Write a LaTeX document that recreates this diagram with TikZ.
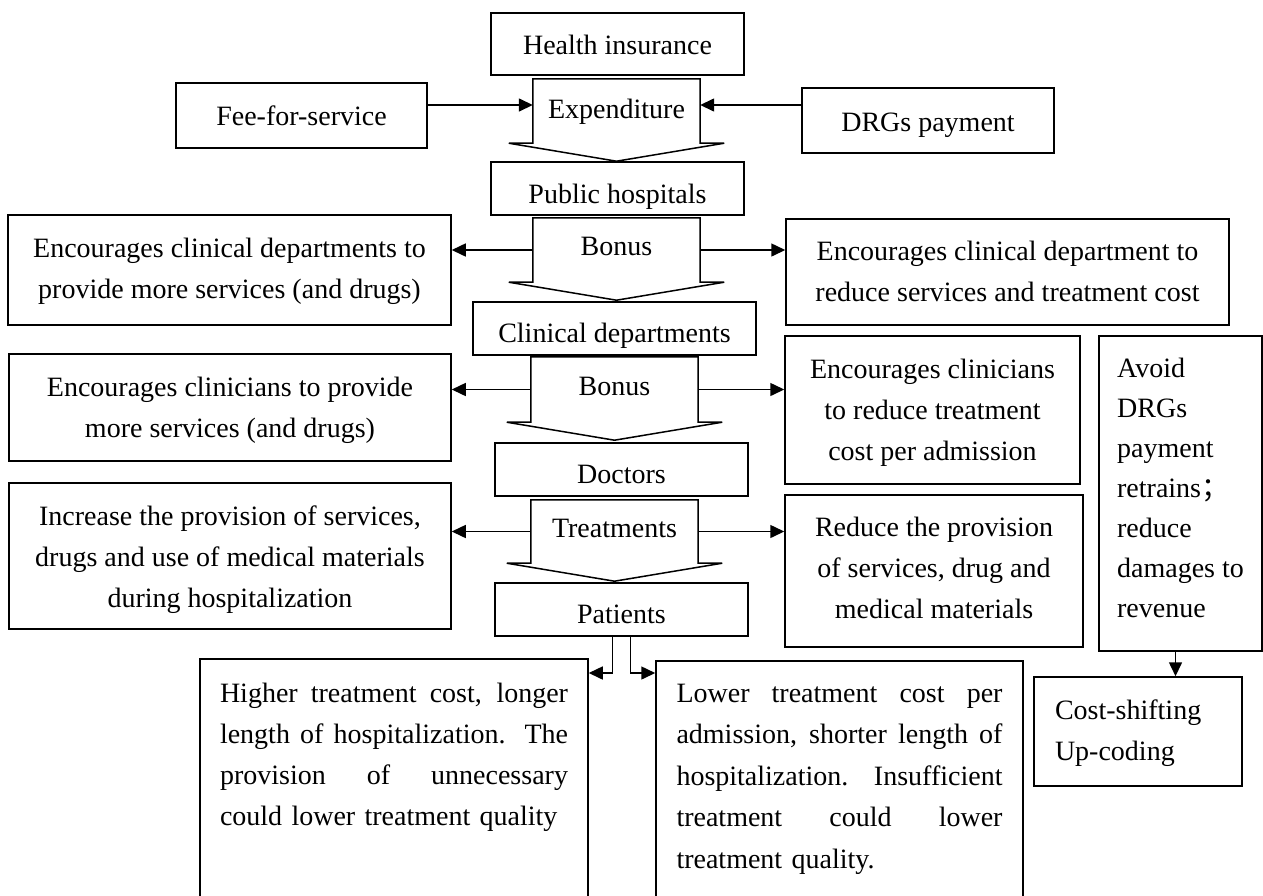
\documentclass[tikz,border=0pt]{standalone}
\usepackage{fontspec}
\setmainfont{Liberation Serif}
\newfontfamily\cjk{Noto Sans CJK SC}
\usetikzlibrary{arrows.meta,calc}
\setlength{\parindent}{0pt}
\newcommand{\jline}[2]{\makebox[#1][s]{\spaceskip=0pt\xspaceskip=0pt\relax #2}}
\begin{document}
\begin{tikzpicture}[x=1pt,y=-1pt,
  every node/.style={font=\fontsize{28}{41}\selectfont, inner sep=0pt},
  box/.style={draw, line width=1.5pt, rectangle},
  body/.style={rectangle},
  blk/.style={draw, line width=1.5pt, line join=miter},
  conn/.style={line width=1.5pt, -{Triangle[length=14pt,width=13pt]}},
  bo/.style={text height=#1, text depth=0pt},
  bn/.style={text height=0pt, text depth=#1},
]
\useasboundingbox (0,0) rectangle (1263,895);
\clip (0,0) rectangle (1263,895);

% top row
\node[box, minimum width=253pt, minimum height=62pt, bo=20pt] (health) at (617.5,44) {Health insurance};
\node[box, minimum width=251pt, minimum height=65pt, bo=19pt] (fee) at (301.5,115.5) {Fee-for-service};
\node[box, minimum width=252pt, minimum height=65pt, bo=21pt] (drg) at (928,120.5) {DRGs payment};
\node[body, minimum width=167pt, minimum height=64pt, bo=14pt] (exp) at (616.5,111) {Expenditure};

% public hospitals
\node[box, minimum width=253pt, minimum height=53pt, bo=29pt] (pub) at (617.5,188.5) {Public hospitals};
\node[body, minimum width=167pt, minimum height=64pt, bo=10pt] (bon1) at (616.5,250) {Bonus};
\node[box, minimum width=443pt, minimum height=110pt, align=center, bo=56pt] (ecdl) at (229.5,270) {Encourages clinical departments to\\provide more services (and drugs)};
\node[box, minimum width=443pt, minimum height=106pt, align=center, bo=58pt] (ecdr) at (1007.5,272) {Encourages clinical department to\\reduce services and treatment cost};

% clinical departments
\node[box, minimum width=283pt, minimum height=53pt, bo=27pt] (clin) at (614.5,328.5) {Clinical departments};
\node[body, minimum width=167pt, minimum height=65pt, bo=11pt] (bon2) at (614.5,389.5) {Bonus};
\node[box, minimum width=442pt, minimum height=107pt, align=center, bo=59pt] (eccl) at (230,407.5) {Encourages clinicians to provide\\more services (and drugs)};
\node[box, minimum width=295pt, minimum height=148pt, align=center, bo=100pt] (eccr) at (932.5,410) {Encourages clinicians\\to reduce treatment\\cost per admission};

% doctors
\node[box, minimum width=253pt, minimum height=53pt, bo=27pt] (doc) at (621.5,469.5) {Doctors};
\node[body, minimum width=167pt, minimum height=63pt, bo=11pt] (treat) at (614.5,531.5) {Treatments};
\node[box, minimum width=442pt, minimum height=146pt, align=center, bo=102pt] (incr) at (230,556) {Increase the provision of services,\\drugs and use of medical materials\\during hospitalization};
\node[box, minimum width=298pt, minimum height=152pt, align=center, bo=94pt] (redu) at (934,571) {Reduce the provision\\of services, drug and\\medical materials};

% patients
\node[box, minimum width=253pt, minimum height=53pt, bo=27pt] (pat) at (621.5,609.5) {Patients};

% right column
\node[box, minimum width=163pt, minimum height=315pt, align=left, bo=247pt, font=\fontsize{28}{40}\selectfont] (avoid) at (1180.5,493.5) {Avoid\\DRGs\\payment\\retrains{\cjk ；}\\reduce\\damages to\\revenue};
\node[box, minimum width=208pt, minimum height=109pt, text width=166pt, align=left, bn=25pt] (cost) at (1138,731.5) {Cost-shifting\\Up-coding};

% bottom boxes
\node[box, minimum width=388pt, minimum height=300pt, text width=348pt, align=left, bn=214pt] (higher) at (394,809) {\jline{348pt}{Higher treatment cost, longer}\\\jline{348pt}{length of hospitalization. The}\\\jline{348pt}{provision of unnecessary}\\could lower treatment quality};
\node[box, minimum width=367pt, minimum height=300pt, text width=326pt, align=left, bn=218pt, font=\fontsize{28}{41.5}\selectfont] (lower) at (839.5,811) {\jline{326pt}{Lower treatment cost per}\\\jline{326pt}{admission, shorter length of}\\\jline{326pt}{hospitalization. Insufficient}\\\jline{326pt}{treatment could lower}\\treatment quality.};

% block arrows
\foreach \n in {exp,bon1,bon2,treat}{
  \draw[blk] (\n.north west) -- (\n.north east) -- (\n.south east) -- ++(24,0)
    -- ($(\n.south)+(0,18)$) -- ($(\n.south west)+(-24,0)$) -- (\n.south west) -- cycle;
}

% connectors
\coordinate (r1) at (0,105);
\draw[conn] (fee.east |- r1) -- (exp.west |- r1);
\draw[conn] (drg.west |- r1) -- (exp.east |- r1);
\draw[conn] (bon1.west) -- (bon1.west -| ecdl.east);
\draw[conn] (bon1.east) -- (bon1.east -| ecdr.west);
\draw[conn] (bon2.west) -- (bon2.west -| eccl.east);
\draw[conn] (bon2.east) -- (bon2.east -| eccr.west);
\draw[conn] (treat.west) -- (treat.west -| incr.east);
\draw[conn] (treat.east) -- (treat.east -| redu.west);
\coordinate (r2) at (0,673);
\coordinate (pl) at ([xshift=-9pt]pat.south);
\coordinate (pr) at ([xshift=9pt]pat.south);
\draw[conn] (pl) |- (higher.east |- r2);
\draw[conn] (pr) |- (lower.west |- r2);
\coordinate (a1) at ([xshift=-5pt]avoid.south);
\draw[conn] (a1) -- (a1 |- cost.north);
\end{tikzpicture}
\end{document}
